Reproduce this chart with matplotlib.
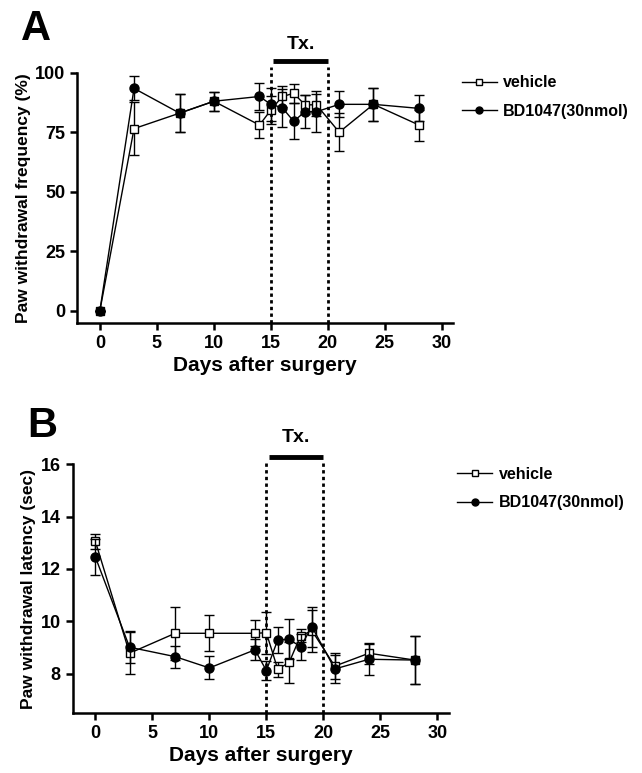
import numpy as np
import matplotlib.pyplot as plt
from matplotlib.lines import Line2D

plt.rcParams['font.family'] = ['Liberation Sans', 'DejaVu Sans']
plt.rcParams['font.weight'] = 'bold'

# Days of measurement
days = np.array([0, 3, 7, 10, 14, 15, 16, 17, 18, 19, 21, 24, 28])

# Panel A: paw withdrawal frequency (%)
freq_vehicle = np.array([0, 76.5, 83, 88, 78, 84.3, 90, 91.3, 86.5, 86.5, 75, 86.7, 78])
freq_vehicle_err = np.array([0, 11, 8, 4, 5.5, 6, 4.5, 4, 4, 4.5, 8, 7, 6.5])
freq_bd = np.array([0, 93.4, 83, 88, 90, 86.7, 85.3, 79.6, 83.6, 83.6, 86.7, 86.7, 85])
freq_bd_err = np.array([0, 5, 8, 4, 5.5, 7, 8, 7.5, 7, 8.5, 5.5, 7, 5.5])

# Panel B: paw withdrawal latency (sec)
lat_vehicle = np.array([13.06, 8.79, 9.55, 9.55, 9.55, 9.57, 8.18, 8.44, 9.45, 9.65, 8.3, 8.79, 8.53])
lat_vehicle_err = np.array([0.28, 0.8, 1.0, 0.68, 0.5, 0.8, 0.28, 0.77, 0.25, 0.8, 0.5, 0.4, 0.9])
lat_bd = np.array([12.46, 9.02, 8.66, 8.23, 8.92, 8.13, 9.3, 9.32, 9.04, 9.8, 8.19, 8.56, 8.53])
lat_bd_err = np.array([0.67, 0.6, 0.42, 0.44, 0.4, 0.36, 0.5, 0.76, 0.5, 0.76, 0.55, 0.6, 0.9])

labels = ['vehicle', 'BD1047(30nmol)']
tx_start, tx_end = 15, 20

fig = plt.figure(figsize=(6.42, 7.73), dpi=100)
axA = fig.add_axes([0.12, 0.5825, 0.586, 0.3235])
axB = fig.add_axes([0.113, 0.0772, 0.586, 0.3225])


def draw_panel(ax, veh, veh_err, bd, bd_err, ylim, yticks, ylabel, bar_y, text_y, line_top):
    ax.errorbar(days, veh, yerr=veh_err, color='k', lw=1, marker='s', ms=6,
                mfc='white', mec='k', mew=1, capsize=3.5, elinewidth=1,
                capthick=1, zorder=3)
    ax.errorbar(days, bd, yerr=bd_err, color='k', lw=1, marker='o', ms=6.5,
                mfc='k', mec='k', capsize=3.5, elinewidth=1, capthick=1,
                zorder=4)
    for xv in (tx_start, tx_end):
        ax.plot([xv, xv], [ylim[0], line_top], color='k', ls=(0, (1.2, 1.2)),
                lw=2, clip_on=False, zorder=2)
    ax.plot([tx_start + 0.2, tx_end], [bar_y, bar_y], color='k', lw=3.5,
            solid_capstyle='butt', clip_on=False)
    ax.text((tx_start + tx_end) / 2 + 0.1, text_y, 'Tx.', ha='center', va='center',
            fontsize=14, fontweight='bold')
    ax.set_xlim(-2, 31)
    ax.set_ylim(*ylim)
    ax.set_xticks([0, 5, 10, 15, 20, 25, 30])
    ax.set_yticks(yticks)
    ax.set_xlabel('Days after surgery', fontsize=15, fontweight='bold', labelpad=3)
    ax.set_ylabel(ylabel, fontsize=12.5, fontweight='bold', labelpad=3)
    ax.spines['top'].set_visible(False)
    ax.spines['right'].set_visible(False)
    ax.spines['left'].set_linewidth(1.8)
    ax.spines['bottom'].set_linewidth(1.8)
    ax.tick_params(width=1.8, length=5, labelsize=13)
    handles = [
        Line2D([], [], color='k', lw=1, marker='s', ms=5, mfc='white', mec='k'),
        Line2D([], [], color='k', lw=1, marker='o', ms=5, mfc='k', mec='k'),
    ]
    ax.legend(handles, labels, loc='upper left', bbox_to_anchor=(1.005, 1.015),
              frameon=False, fontsize=11.5, handlelength=2.2, labelspacing=0.85,
              borderaxespad=0, handletextpad=0.4)


draw_panel(axA, freq_vehicle, freq_vehicle_err, freq_bd, freq_bd_err,
           (-5, 100), [0, 25, 50, 75, 100], 'Paw withdrawal frequency (%)',
           105, 112, 102.5)
draw_panel(axB, lat_vehicle, lat_vehicle_err, lat_bd, lat_bd_err,
           (6.5, 16), [8, 10, 12, 14, 16], 'Paw withdrawal latency (sec)',
           16.28, 17.0, 16.1)

fig.text(0.033, 0.962, 'A', fontsize=30, fontweight='bold', va='center')
fig.text(0.043, 0.449, 'B', fontsize=30, fontweight='bold', va='center')

fig.savefig('out.png', dpi=100)
